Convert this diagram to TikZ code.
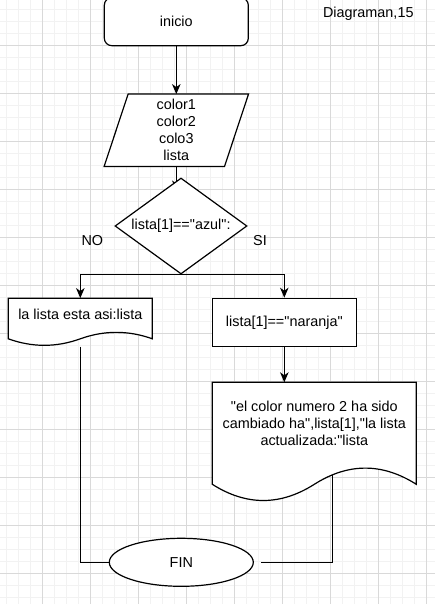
\documentclass[tikz,border=0pt]{standalone}
\usepackage{fontspec}
\setmainfont{Liberation Sans}[Ligatures=TeXOff]
\usetikzlibrary{arrows.meta,calc,shapes.geometric}
\pgfdeclarelayer{gridlayer}
\pgfdeclarelayer{connlayer}
\pgfsetlayers{gridlayer,connlayer,main}
\definecolor{gridminor}{HTML}{F2F2F2}
\definecolor{gridmajor}{HTML}{D9D9D9}
\newcommand{\dq}{\symbol{34}}
\tikzset{
  txt/.style={inner sep=0pt, align=center, font=\fontsize{14.4}{17}\selectfont},
  shapeline/.style={draw=black, line width=1.2pt, fill=white},
  conn/.style={draw=black, line width=1.2pt},
  arr/.style={conn, -{Stealth[length=10pt,width=8.5pt,inset=3pt]}},
  boxnode/.style={txt, draw=none, inner sep=0pt},
}
\begin{document}
\begin{tikzpicture}[x=1pt,y=-1pt]
\useasboundingbox (0,0) rectangle (435,604);
\clip (0,0) rectangle (435,604);
\begin{pgfonlayer}{gridlayer}
  \fill[white] (0,0) rectangle (435,604);
  \foreach \i in {0,...,36} {
    \draw[gridminor, line width=1pt] ({6.3+12*\i},0) -- ({6.3+12*\i},604);
  }
  \foreach \j in {0,...,50} {
    \draw[gridminor, line width=1pt] (0,{9.5+12*\j}) -- (435,{9.5+12*\j});
  }
  \foreach \i in {0,...,8} {
    \draw[gridmajor, line width=1pt] ({42.3+48*\i},0) -- ({42.3+48*\i},604);
  }
  \foreach \j in {0,...,12} {
    \draw[gridmajor, line width=1pt] (0,{45.5+48*\j}) -- (435,{45.5+48*\j});
  }
\end{pgfonlayer}

% inicio
\node[txt, shapeline, rounded corners=7.5pt, minimum width=144pt, minimum height=48pt] (ini) at (176.3,21.7) {inicio};
% parallelogram
\node[boxnode, minimum width=144pt, minimum height=72pt] (para) at (176.3,130.3) {};
\draw[shapeline] (para.south west) -- ($(para.north west)+(24,0)$) -- (para.north east) -- ($(para.south east)+(-24,0)$) -- cycle;
\node[txt] (paratxt) at (176.3,129.5) {color1\\color2\\colo3\\lista};
% decision
\node[txt, shapeline, diamond, inner sep=0pt, minimum width=132pt, minimum height=96pt] (dec) at (181,226) {};
\node[txt] (dectxt) at (181,225.5) {lista[1]==\dq azul\dq:};
\node[txt] (no) at (92.3,241) {NO};
\node[txt] (si) at (260,241) {SI};
% document 1
\node[boxnode, minimum width=144pt, minimum height=48pt] (doc1) at (80.3,322.3) {};
\draw[shapeline] (8.3,298.3) -- (152.3,298.3) -- (152.3,338.8)
  .. controls (128.3,330.2) and (104.3,330.2) .. (80.3,338.8)
  .. controls (56.3,347.5) and (32.3,347.5) .. (8.3,338.8) -- cycle;
\node[txt] (doc1txt) at (80.3,314.5) {la lista esta asi:lista};
% rect 2
\node[txt, shapeline, minimum width=144pt, minimum height=48pt] (rect2) at (284.3,322.3) {lista[1]==\dq naranja\dq};
% document 2
\node[boxnode, minimum width=204pt, minimum height=120pt] (doc2) at (314.3,442.3) {};
\draw[shapeline] (212.3,382.3) -- (416.3,382.3) -- (416.3,484.3)
  .. controls (382.3,462.7) and (348.3,462.7) .. (314.3,484.3)
  .. controls (280.3,505.9) and (246.3,505.9) .. (212.3,484.3) -- cycle;
\node[txt] (doc2txt) at (314.3,423.5) {\dq el color numero 2 ha sido\\cambiado ha\dq,lista[1],\dq la lista\\actualizada:\dq lista};
% FIN
\node[txt, shapeline, ellipse, inner sep=0pt, minimum width=144pt, minimum height=48pt] (fin) at (181.3,562.3) {FIN};
% title
\node[txt] (title) at (368.3,14) {Diagraman,15};

\coordinate (d2top) at (284.3,382.3);
\coordinate (d2out) at (332.3,475);
\coordinate (finR) at ($(fin.east)+(7,0)$);
\coordinate (decin) at ($(para.south)+(0,24)$);

\begin{pgfonlayer}{connlayer}
  \draw[arr] (ini.south) -- (para.north);
  \draw[arr] (para.south) -- (decin);
  \draw[arr] (dec.south) -| (doc1.north);
  \draw[arr] (dec.south) -| (rect2.north);
  \draw[arr] (rect2.south) -- (d2top);
  \draw[conn] (doc1.south) |- (fin.west);
  \draw[conn] (d2out) |- (finR);
\end{pgfonlayer}
\end{tikzpicture}
\end{document}
